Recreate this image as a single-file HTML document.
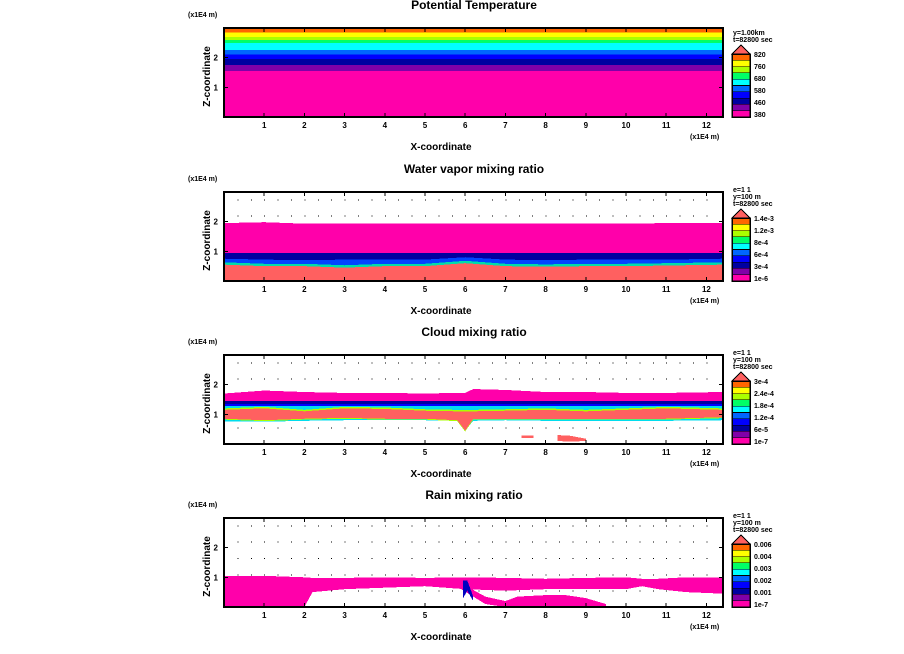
<!DOCTYPE html>
<html><head><meta charset="utf-8"><style>
body{margin:0;background:#fff;}
svg{display:block;font-family:"Liberation Sans",sans-serif;font-weight:bold;}
</style></head><body>
<svg id="c" width="904" height="654" viewBox="0 0 904 654" shape-rendering="crispEdges"></svg>
<script>
// ---- data ----
const panelTitles = ["Potential Temperature","Water vapor mixing ratio","Cloud mixing ratio","Rain mixing ratio"];
const panelTops = [28,192,355,518];
const xTickLabels = [1,2,3,4,5,6,7,8,9,10,11,12];
const zTickLabels = [1,2];
const legendColors = ["#ff6600","#ffff00","#aaff00","#00ff66","#00ffff","#0066ff","#0000ff","#0000a0","#8000a8","#ff00aa"];
const legendLabels1 = ["820","760","680","580","460","380"];
const legendLabels2 = ["1.4e-3","1.2e-3","8e-4","6e-4","3e-4","1e-6"];
const legendLabels3 = ["3e-4","2.4e-4","1.8e-4","1.2e-4","6e-5","1e-7"];
const legendLabels4 = ["0.006","0.004","0.003","0.002","0.001","1e-7"];
const infoText1 = ["y=1.00km","t=82800 sec"];
const infoText2 = ["e=1 1","y=100 m","t=82800 sec"];
const xsFull = [0,12.4];
const ptLevelsZ = [0.03,1.55,1.75,1.95,2.1,2.25,2.5,2.6,2.7,2.85,2.95,3.0];
const ptColors = ["#ff00aa","#8000a8","#0000a0","#0000ff","#0066ff","#00ffff","#00ff66","#aaff00","#ffff00","#ff6600","#ff6600"];
const qvXs = [0,1,2,3,4,5,6,7,8,9,10,11,12.4];
const qvSalmonTop = [0.55,0.5,0.5,0.45,0.5,0.5,0.6,0.5,0.48,0.5,0.5,0.52,0.55];
const qvMixTop = [0.75,0.72,0.7,0.72,0.72,0.72,0.8,0.72,0.7,0.72,0.72,0.72,0.75];
const qvMagLow = [0.95,0.95,0.95,0.95,0.95,0.95,0.95,0.95,0.95,0.95,0.95,0.95,0.95];
const qvMagTop = [1.95,1.98,1.93,1.93,1.93,1.93,1.93,1.93,1.93,1.93,1.93,1.95,1.95];
const qcXs = [0,1,2,3,4,5,5.8,6,6.2,7,8,9,10,11,12.4];
const qcSalmonLow = [0.85,0.8,0.85,0.88,0.85,0.85,0.8,0.45,0.85,0.85,0.85,0.85,0.85,0.85,0.9];
const qcSalmonTop = [1.15,1.2,1.1,1.2,1.18,1.12,1.1,1.1,1.1,1.12,1.15,1.1,1.15,1.2,1.15];
const qcEdgeLow = [0.75,0.75,0.78,0.8,0.8,0.8,0.78,0.45,0.78,0.8,0.78,0.78,0.78,0.78,0.8];
const qcEdgeTop = [1.28,1.28,1.28,1.28,1.28,1.28,1.28,1.28,1.28,1.28,1.28,1.28,1.28,1.28,1.28];
const qcMagTop = [1.7,1.8,1.75,1.72,1.72,1.7,1.72,1.72,1.85,1.82,1.75,1.75,1.72,1.72,1.75];
const qrXs = [0,1,2,2.2,3,4,5,6,7,8,9,10,10.4,10.8,11.5,12.4];
const qrLow = [0.0,0.0,0.0,0.5,0.6,0.65,0.7,0.6,0.55,0.6,0.6,0.6,0.7,0.6,0.5,0.45];
const qrTop = [1.05,1.05,1.0,0.98,0.98,1.0,0.98,1.0,0.98,0.95,0.98,1.0,0.95,0.95,1.0,1.0];
const qr2Xs = [5.9,6.5,7,7.3,8,8.5,9,9.5];
const qr2Low = [0.6,0.1,0.0,0.0,0.0,0.0,0.0,0.02];
const qr2Top = [0.8,0.35,0.2,0.35,0.4,0.4,0.3,0.1];
// ---- drawing ----
const svg=document.getElementById('c');
const NS="http://www.w3.org/2000/svg";
function mk(t,a,p){const e=document.createElementNS(NS,t);for(const k in a)e.setAttribute(k,a[k]);(p||svg).appendChild(e);return e;}
const X0=224,XS=40.2,ZS=29.7,PH=89,PW=499;
function X(x){return X0+x*XS;}
function Y(p,z){return panelTops[p]+PH-z*ZS;}
// grid dots first (under fills)
for(let p=0;p<4;p++){
  const gg=mk('g',{});
  
  
  for(let gx=1;gx<37;gx++)for(let gz=1;gz<6;gz++){
    mk('rect',{x:X(gx/3),y:Y(p,gz*0.55),width:1,height:1,fill:'#000'},gg);
  }
}
function band(p,xs,lo,hi,col,name){
  let pts=[];
  for(let i=0;i<xs.length;i++)pts.push(X(xs[i])+","+Y(p,hi[i]));
  for(let i=xs.length-1;i>=0;i--)pts.push(X(xs[i])+","+Y(p,lo[i]));
  const e=mk('polygon',{points:pts.join(' '),fill:col});
  
  
}
function cst(n,v){return Array(n).fill(v);}
for(let i=0;i<ptColors.length;i++){
  band(0,xsFull,cst(2,ptLevelsZ[i]),cst(2,ptLevelsZ[i+1]),ptColors[i],'theta-band');
}
const n2=qvXs.length;
band(1,qvXs,qvMagLow,qvMagTop,"#ff00aa",'qv-magenta-layer');
band(1,qvXs,qvMixTop,qvMagLow,"#0000a0",'qv-navy-layer');
band(1,qvXs,qvSalmonTop,qvMixTop,"#0044ff",'qv-blue-layer');
band(1,qvXs,qvSalmonTop,qvSalmonTop.map(v=>v+0.08),"#00ddaa",'qv-cyan-edge');
band(1,qvXs,cst(n2,0),qvSalmonTop,"#ff6060",'qv-salmon-layer');
const n3=qcXs.length;
band(2,qcXs,cst(n3,1.45),qcMagTop,"#ff00aa",'qc-magenta-layer');
band(2,qcXs,cst(n3,1.35),cst(n3,1.45),"#0000a0",'qc-navy-layer');
band(2,qcXs,qcEdgeTop,cst(n3,1.35),"#0000ff",'qc-blue-layer');
band(2,qcXs,qcEdgeLow,qcEdgeTop,"#00ddee",'qc-cyan-layer');
band(2,qcXs,qcSalmonLow.map(v=>v-0.03),qcSalmonTop.map(v=>v+0.05),"#aaff00",'qc-yellow-edge');
band(2,qcXs,qcSalmonLow,qcSalmonTop,"#ff6060",'qc-salmon-core');
band(2,[8.3,8.6,9.0],[0.1,0.08,0.1],[0.3,0.28,0.18],"#ff6060",'qc-low-cloud');
band(2,[7.4,7.7],[0.2,0.2],[0.28,0.28],"#ff6060",'qc-low-cloud-2');
band(3,qrXs,qrLow,qrTop,"#ff00aa",'qr-magenta-layer');
band(3,qr2Xs,qr2Low,qr2Top,"#ff00aa",'qr-lower-lobe');
band(3,[5.95,6.05,6.2],[0.3,0.55,0.2],[0.9,0.9,0.35],"#0000c0",'qr-blue-streak');
const legendSets=[legendLabels1,legendLabels2,legendLabels3,legendLabels4];
for(let p=0;p<4;p++){
  const top=panelTops[p];
  const g=mk('g',{});
  
  
  mk('rect',{x:X0,y:top,width:PW,height:PH,fill:'none',stroke:'#000','stroke-width':2},g);
  const t=mk('text',{x:474,y:top-19,'font-size':12,'text-anchor':'middle'},g);t.textContent=panelTitles[p];
  
  const u=mk('text',{x:188,y:top-11,'font-size':7},g);u.textContent='(x1E4 m)';
  const u2=mk('text',{x:690,y:top+PH+22,'font-size':7},g);u2.textContent='(x1E4 m)';
  const xl=mk('text',{x:441,y:top+PH+33,'font-size':10,'text-anchor':'middle'},g);xl.textContent='X-coordinate';
  
  const yl=mk('text',{x:0,y:0,'font-size':10,'text-anchor':'middle',transform:`translate(210,${top+PH/2+4}) rotate(-90)`},g);yl.textContent='Z-coordinate';
  
  xTickLabels.forEach(v=>{
    mk('line',{x1:X(v),x2:X(v),y1:top+PH,y2:top+PH-4,stroke:'#000'},g);
    mk('line',{x1:X(v),x2:X(v),y1:top,y2:top+4,stroke:'#000'},g);
    const l=mk('text',{x:X(v),y:top+PH+11,'font-size':8,'text-anchor':'middle'},g);l.textContent=v;
  });
  zTickLabels.forEach(v=>{
    mk('line',{x1:X0,x2:X0+4,y1:Y(p,v),y2:Y(p,v),stroke:'#000'},g);
    mk('line',{x1:X0+PW-4,x2:X0+PW,y1:Y(p,v),y2:Y(p,v),stroke:'#000'},g);
    const l=mk('text',{x:X0-6,y:Y(p,v)+3,'font-size':8,'text-anchor':'end'},g);l.textContent=v;
  });
  const lg=mk('g',{},g);
  
  const info=p==0?infoText1:infoText2;
  info.forEach((s,i)=>{const e=mk('text',{x:733,y:top+7+i*7-(info.length-2)*7,'font-size':7},lg);e.textContent=s;});
  const lb=top+PH, bh=6.3, ltop=lb-10*bh;
  mk('polygon',{points:`732,${ltop} 741,${ltop-9} 750,${ltop}`,fill:'#ff6060',stroke:'#000'},lg);
  legendColors.forEach((c,i)=>{mk('rect',{x:732,y:ltop+i*bh,width:18,height:bh,fill:c,stroke:'#000','stroke-width':0.6},lg);});
  mk('rect',{x:732,y:ltop,width:18,height:10*bh,fill:'none',stroke:'#000','stroke-width':1.5},lg);
  legendSets[p].forEach((s,i)=>{const e=mk('text',{x:754,y:ltop+3+i*bh*1.9,'font-size':7},lg);e.textContent=s;});
}
</script>
</body></html>
